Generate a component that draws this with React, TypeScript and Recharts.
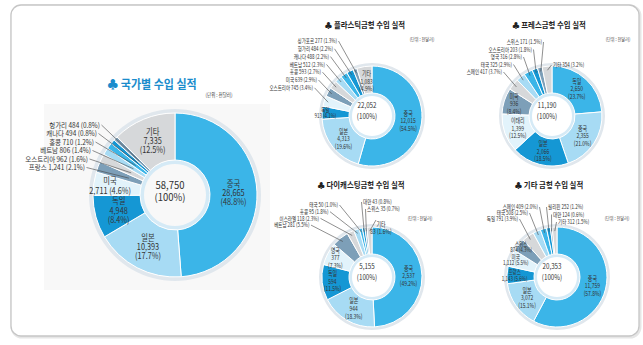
import React from 'react';
import { PieChart, Pie, Cell } from 'recharts';

// 국가별 수입 실적 (단위: 천달러)
const countryNames = ['중국', '일본', '독일', '미국', '프랑스', '오스트리아', '베트남', '홍콩', '캐나다', '헝가리', '기타'];
const countryValues = [28665, 10393, 4948, 2711, 1241, 962, 806, 710, 494, 484, 7335];
const countryPcts = ['48.8', '17.7', '8.4', '4.6', '2.1', '1.6', '1.4', '1.2', '0.8', '0.8', '12.5'];
const countryTotal = 58750;

// 플라스틱금형
const plasticNames = ['중국', '일본', '독일', '오스트리아', '미국', '홍콩', '베트남', '캐나다', '헝가리', '싱가포르', '기타'];
const plasticValues = [12015, 4313, 913, 745, 639, 593, 512, 488, 484, 277, 1083];
const plasticPcts = ['54.5', '19.6', '4.1', '3.4', '2.9', '2.7', '2.3', '2.2', '2.2', '1.3', '4.9'];
const plasticTotal = 22052;

// 프레스금형
const pressNames = ['독일', '중국', '일본', '이태리', '미국', '스페인', '태국', '영국', '오스트리아', '스위스', '기타'];
const pressValues = [2650, 2355, 2066, 1399, 936, 417, 325, 316, 203, 171, 354];
const pressPcts = ['23.7', '21.0', '18.5', '12.5', '8.4', '3.7', '2.9', '2.8', '1.8', '1.5', '3.2'];
const pressTotal = 11190;

// 다이캐스팅금형
const dieNames = ['중국', '일본', '독일', '영국', '베트남', '이스라엘', '홍콩', '태국', '대만', '스위스', '기타'];
const dieValues = [2537, 944, 594, 377, 281, 118, 95, 50, 43, 35, 83];
const diePcts = ['49.2', '18.3', '11.5', '7.3', '5.5', '2.3', '1.8', '1.0', '0.8', '0.7', '1.6'];
const dieTotal = 5155;

// 기타 금형
const etcNames = ['중국', '일본', '프랑스', '미국', '스위스', '독일', '태국', '스페인', '필리핀', '대만', '기타'];
const etcValues = [11759, 3072, 1143, 1112, 874, 791, 508, 409, 252, 124, 312];
const etcPcts = ['57.8', '15.1', '5.6', '5.5', '4.3', '3.9', '2.5', '2.0', '1.2', '0.6', '1.5'];
const etcTotal = 20353;

const SKY = '#3bb5e8';
const LIGHT = '#a7dbf4';
const DARK = '#1597d4';
const PALE = '#e2f3fb';
const STEEL = '#7d9fb8';
const GRAY = '#d6d8da';
const PALETTE = [SKY, LIGHT, DARK, PALE, STEEL, GRAY, LIGHT, SKY, DARK, STEEL, GRAY];
const RIM = '#e0e7ed';
const RING = '#d5eaf6';

const FONT = '"Noto Sans CJK KR", "Noto Sans", sans-serif';
const RADIAN = Math.PI / 180;
const fmt = (v: number) => v.toLocaleString('en-US');

type Group = { x: number; y: number; dx: number; dy: number };

interface Donut {
  key: string;
  title: string;
  tx: number;
  ty: number;
  ux: number;
  uy: number;
  names: string[];
  values: number[];
  pcts: string[];
  total: number;
  cx: number;
  cy: number;
  inner: number;
  outer: number;
  big: boolean;
  modes: string[];
  fr?: Record<number, number>;
  lineR: number;
  left?: Group;
  right?: Group;
  ext?: { x: number; y: number };
}

const donuts: Donut[] = [
  {
    key: 'country', title: '♣ 국가별 수입 실적', tx: 152, ty: 89, ux: 219, uy: 97,
    names: countryNames, values: countryValues, pcts: countryPcts, total: countryTotal,
    cx: 170, cy: 190, inner: 35, outer: 82, big: true,
    modes: ['in3', 'in3', 'in3', 'in2', 'left', 'left', 'left', 'left', 'left', 'left', 'in3'],
    fr: { 3: 0.65 },
    lineR: 0.3,
    left: { x: -70, y: -65, dx: -3, dy: 8.5 },
  },
  {
    key: 'plastic', title: '♣ 플라스틱금형 수입 실적', tx: 365, ty: 28, ux: 422, uy: 41,
    names: plasticNames, values: plasticValues, pcts: plasticPcts, total: plasticTotal,
    cx: 367, cy: 111, inner: 23, outer: 50, big: false,
    modes: ['in3', 'in3', 'in2', 'left', 'left', 'left', 'left', 'left', 'left', 'left', 'in3'],
    fr: { 2: 0.88, 10: 0.45 },
    lineR: 0.85,
    left: { x: -30, y: -70, dx: -4, dy: 7.8 },
  },
  {
    key: 'press', title: '♣ 프레스금형 수입 실적', tx: 549, ty: 28, ux: 618, uy: 41,
    names: pressNames, values: pressValues, pcts: pressPcts, total: pressTotal,
    cx: 547, cy: 111, inner: 23, outer: 50, big: false,
    modes: ['in3', 'in3', 'in3', 'in3', 'in3', 'left', 'left', 'left', 'left', 'left', 'right'],
    fr: { 4: 0.62 },
    lineR: 0.85,
    left: { x: -5, y: -69, dx: -10, dy: 7.5 },
    right: { x: 6, y: -46, dx: 0, dy: 0 },
  },
  {
    key: 'die', title: '♣ 다이캐스팅금형 수입 실적', tx: 361, ty: 188, ux: 420, uy: 220,
    names: dieNames, values: dieValues, pcts: diePcts, total: dieTotal,
    cx: 367, cy: 272, inner: 23, outer: 50, big: false,
    modes: ['in3', 'in3', 'in3', 'in3', 'left', 'left', 'left', 'left', 'right', 'right', 'ext2'],
    fr: { 2: 0.62, 3: 0.68 },
    lineR: 0.85,
    left: { x: -29, y: -67, dx: -9.5, dy: 6.7 },
    right: { x: -4, y: -70, dx: 4, dy: 7 },
    ext: { x: 14, y: -47 },
  },
  {
    key: 'etc', title: '♣ 기타 금형 수입 실적', tx: 549, ty: 188, ux: 617, uy: 220,
    names: etcNames, values: etcValues, pcts: etcPcts, total: etcTotal,
    cx: 552, cy: 272, inner: 23, outer: 50, big: false,
    modes: ['in3', 'in3', 'in2', 'in2', 'in2', 'left', 'left', 'left', 'right', 'right', 'right'],
    fr: { 2: 0.72, 3: 0.8, 4: 0.88 },
    lineR: 0.85,
    left: { x: -14, y: -65, dx: -10, dy: 6 },
    right: { x: -4, y: -65, dx: 5, dy: 7.5 },
  },
];

const CText = ({ x, y, size, sx = 0.85, anchor = 'middle', weight = 400, fill = '#333', children }: any) => (
  <text
    transform={`translate(${x},${y}) scale(${sx},1)`}
    fontSize={size}
    fontFamily={FONT}
    fontWeight={weight}
    textAnchor={anchor}
    fill={fill}
  >
    {children}
  </text>
);

const renderLabel = (d: Donut) => (p: any) => {
  const { cx, cy, midAngle, innerRadius, outerRadius, index } = p;
  const mode = d.modes[index];
  const name = d.names[index];
  const val = fmt(d.values[index]);
  const pct = d.pcts[index];
  const polar = (r: number) => [cx + r * Math.cos(-midAngle * RADIAN), cy + r * Math.sin(-midAngle * RADIAN)];

  const small2 = !d.big && mode === 'in2';
  const inSize = d.big ? 8.6 : small2 ? 6 : 6.6;
  const inSx = d.big ? 0.85 : 0.75;
  const lh = d.big ? 9.2 : small2 ? 6.4 : 7.6;
  const outSize = d.big ? 7.2 : 6;
  const outSx = d.big ? 0.9 : 0.75;

  if (mode === 'in3' || mode === 'in2') {
    const f = d.fr?.[index] ?? 0.5;
    const [x, y] = polar(innerRadius + (outerRadius - innerRadius) * f);
    const lines = mode === 'in3' ? [name, val, `(${pct}%)`] : [name, `${val} (${pct}%)`];
    const y0 = y - ((lines.length - 1) * lh) / 2 + inSize * 0.35;
    return (
      <g key={`lb-${index}`}>
        {lines.map((t, i) => (
          <CText key={i} x={x} y={y0 + i * lh} size={inSize} sx={inSx}>{t}</CText>
        ))}
      </g>
    );
  }

  const [px, py] = polar(innerRadius + (outerRadius - innerRadius) * d.lineR);
  const txt = `${name} ${val} (${pct}%)`;

  if (mode === 'ext2' && d.ext) {
    const lx = d.cx + d.ext.x;
    const ly = d.cy + d.ext.y;
    return (
      <g key={`lb-${index}`}>
        <line x1={lx - 5} y1={ly - 5} x2={px} y2={py} stroke="#444" strokeWidth={0.6} />
        <CText x={lx} y={ly + inSize * 0.35} size={inSize} sx={inSx}>{name}</CText>
        <CText x={lx} y={ly + 7 + inSize * 0.35} size={inSize} sx={inSx}>{`${val} (${pct}%)`}</CText>
      </g>
    );
  }

  const isLeft = mode === 'left';
  const g = isLeft ? d.left! : d.right!;
  const members = d.modes.map((m, i) => (m === mode ? i : -1)).filter((i) => i >= 0);
  const order = isLeft ? members.slice().reverse() : members;
  const k = order.indexOf(index);
  const lx = d.cx + g.x + k * g.dx;
  const ly = d.cy + g.y + k * g.dy;
  const sx0 = isLeft ? lx + 1.5 : lx - 1.5;
  return (
    <g key={`lb-${index}`}>
      <line x1={sx0} y1={ly} x2={px} y2={py} stroke="#444" strokeWidth={0.6} />
      <CText x={lx} y={ly + outSize * 0.35} size={outSize} sx={outSx} anchor={isLeft ? 'end' : 'start'}>
        {txt}
      </CText>
    </g>
  );
};

export default function App() {
  return (
    <div style={{ position: 'relative', width: 643, height: 345, background: '#fff' }}>
      <style>{'body{margin:0}'}</style>
      <svg width={643} height={345} style={{ position: 'absolute', left: 0, top: 0 }}>
        <rect x={12} y={6} width={628} height={331} rx={10} fill="none" stroke="#e6e6e6" strokeWidth={3} />
        <rect x={11} y={5} width={628} height={331} rx={10} fill="#fff" stroke="#c6c6c6" strokeWidth={1.3} />
        <rect x={44} y={104} width={226} height={186} fill="#f8f8f8" />
      </svg>
      <div style={{ position: 'absolute', left: 0, top: 0 }}>
        <PieChart width={643} height={345}>
          {donuts.map((d) => (
            <React.Fragment key={d.key}>
              <Pie
                data={[{ v: 1 }]}
                dataKey="v"
                cx={d.cx}
                cy={d.cy}
                innerRadius={d.outer}
                outerRadius={d.outer + (d.big ? 4 : 3)}
                fill={RIM}
                stroke="none"
                isAnimationActive={false}
              />
              <Pie
                data={[{ v: 1 }]}
                dataKey="v"
                cx={d.cx}
                cy={d.cy}
                innerRadius={d.inner - (d.big ? 4 : 3)}
                outerRadius={d.inner}
                fill={RING}
                stroke="none"
                isAnimationActive={false}
              />
              <Pie
                data={d.names.map((n, i) => ({ name: n, value: d.values[i] }))}
                dataKey="value"
                nameKey="name"
                cx={d.cx}
                cy={d.cy}
                innerRadius={d.inner}
                outerRadius={d.outer}
                startAngle={90}
                endAngle={-270}
                stroke="#fff"
                strokeWidth={1}
                label={renderLabel(d)}
                labelLine={false}
                isAnimationActive={false}
              >
                {d.names.map((n, i) => (
                  <Cell key={n} fill={PALETTE[i]} />
                ))}
              </Pie>
            </React.Fragment>
          ))}
        </PieChart>
      </div>
      <svg width={643} height={345} style={{ position: 'absolute', left: 0, top: 0, pointerEvents: 'none' }}>
        {donuts.map((d) => (
          <g key={d.key}>
            <CText
              x={d.tx}
              y={d.ty}
              size={d.big ? 12 : 8.2}
              sx={d.big ? 0.92 : 0.9}
              weight={700}
              fill={d.big ? '#1a8ccc' : '#222'}
            >
              {d.title}
            </CText>
            <CText x={d.ux} y={d.uy} size={d.big ? 5.5 : 5} sx={0.82} fill="#444">(단위 : 천달러)</CText>
            <CText x={d.cx} y={d.cy + (d.big ? -1.5 : -3.5)} size={d.big ? 10 : 7.6} sx={d.big ? 0.95 : 0.82} fill="#333">
              {fmt(d.total)}
            </CText>
            <CText x={d.cx} y={d.cy + (d.big ? 10.5 : 7.5)} size={d.big ? 10 : 7.6} sx={d.big ? 0.95 : 0.82} fill="#333">
              (100%)
            </CText>
          </g>
        ))}
      </svg>
    </div>
  );
}
